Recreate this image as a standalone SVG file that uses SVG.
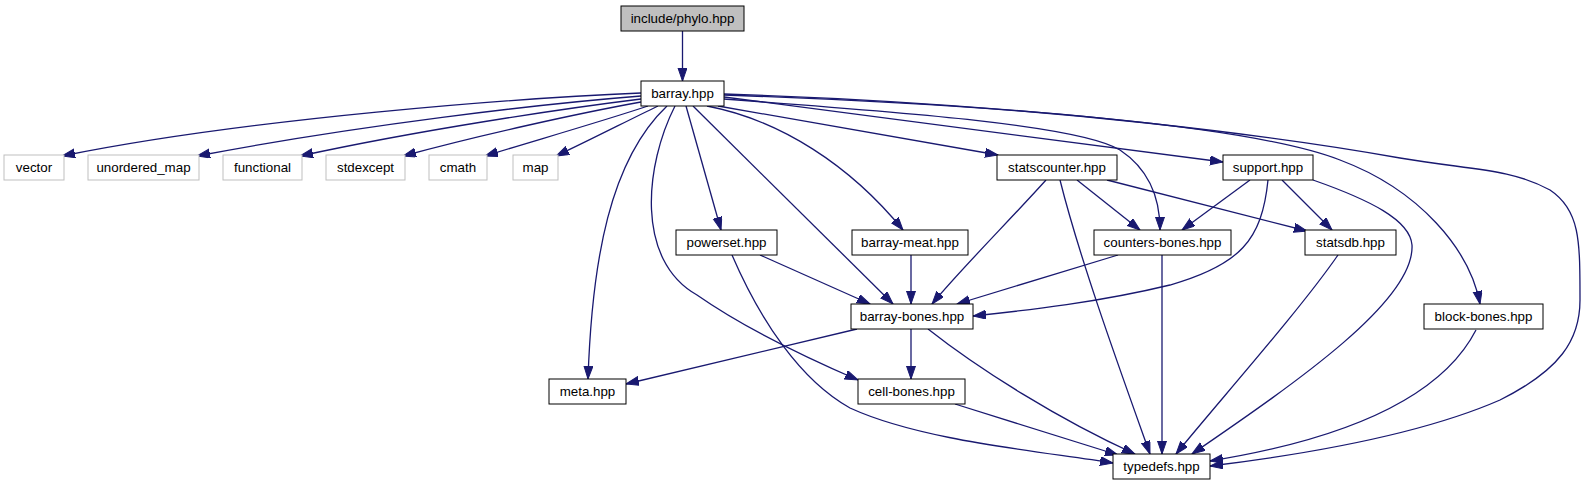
<svg xmlns="http://www.w3.org/2000/svg" width="1585" height="485" viewBox="0 0 1585 485">
<style>
.n rect{fill:#fff;stroke:#000;stroke-width:1}
.n.g rect{stroke:#bfbfbf}
.n.r rect{fill:#bfbfbf}
.n text{font-family:"Liberation Sans",Arial,sans-serif;font-size:13.33px;text-anchor:middle;fill:#000}
.e path{fill:none;stroke:#191970;stroke-width:1.3;marker-end:url(#a)}
</style>
<defs>
<marker id="a" markerUnits="userSpaceOnUse" markerWidth="14" markerHeight="10" refX="13" refY="4.5" orient="auto">
<path d="M0,0 L13,4.5 L0,9 z" fill="#191970" stroke="#191970" stroke-width="1"/>
</marker>
</defs>
<rect width="1585" height="485" fill="#fff"/>
<g class="e" id="edges">
<path d="M682.5,31 L682.5,81"/>
<path d="M641,93 C520,98 250,118 62,156"/>
<path d="M641,96 C540,104 360,125 197,156"/>
<path d="M641,99 C560,109 420,130 300,156"/>
<path d="M641,102 C580,113 480,135 403,156"/>
<path d="M648,106 C600,122 530,142 485,156"/>
<path d="M658,106 C625,122 590,140 556,156"/>
<path d="M667,106 C610,160 592,260 588,379"/>
<path d="M675,106 C645,165 635,260 697,295 C740,325 800,355 858,380"/>
<path d="M686,106 L721,230"/>
<path d="M693,106 L893,304"/>
<path d="M707,106 C780,120 850,165 903,230"/>
<path d="M718,106 L998,155"/>
<path d="M724,99 C900,112 1080,125 1120,150 C1150,170 1160,200 1160,230"/>
<path d="M724,97 L1223,162"/>
<path d="M724,95 C1000,105 1250,125 1340,160 C1420,190 1470,250 1480,304"/>
<path d="M724,94 C1050,104 1300,140 1400,158 C1470,170 1510,168 1550,190 C1580,210 1580,240 1580,300 C1580,340 1560,370 1500,400 C1420,435 1300,455 1210,466"/>
<path d="M1046,180 C1010,220 960,270 932,304"/>
<path d="M1060,180 C1080,260 1120,370 1150,454"/>
<path d="M1077,180 L1140,230"/>
<path d="M1107,180 L1307,231"/>
<path d="M1250,180 L1182,230"/>
<path d="M1268,180 C1262,240 1240,265 1170,285 C1100,302 1030,310 973,316"/>
<path d="M1282,180 L1332,230"/>
<path d="M1313,180 C1370,200 1410,220 1412,245 C1415,300 1300,380 1192,454"/>
<path d="M760,255 L870,304"/>
<path d="M732,255 C760,320 800,380 850,408 C920,440 1030,450 1113,463"/>
<path d="M911,255 L911,304"/>
<path d="M1118,255 L957,304"/>
<path d="M1162,255 L1162,454"/>
<path d="M1338,255 C1300,310 1220,400 1176,454"/>
<path d="M857,329 L626,384"/>
<path d="M911,329 L911,379"/>
<path d="M928,329 C980,370 1060,420 1135,454"/>
<path d="M955,404 L1118,455"/>
<path d="M1476,330 C1440,400 1340,440 1210,461"/>
</g>
<g id="n-include" class="n r"><rect x="621" y="6" width="123" height="25"/><text x="682.5" y="23">include/phylo.hpp</text></g>
<g id="n-barray" class="n"><rect x="641" y="81" width="83" height="25"/><text x="682.5" y="98">barray.hpp</text></g>
<g id="n-vector" class="n g"><rect x="4" y="155" width="60" height="25"/><text x="34" y="172">vector</text></g>
<g id="n-unordered_map" class="n g"><rect x="88" y="155" width="111" height="25"/><text x="143.5" y="172">unordered_map</text></g>
<g id="n-functional" class="n g"><rect x="223" y="155" width="79" height="25"/><text x="262.5" y="172">functional</text></g>
<g id="n-stdexcept" class="n g"><rect x="326" y="155" width="79" height="25"/><text x="365.5" y="172">stdexcept</text></g>
<g id="n-cmath" class="n g"><rect x="429" y="155" width="58" height="25"/><text x="458" y="172">cmath</text></g>
<g id="n-map" class="n g"><rect x="513" y="155" width="45" height="25"/><text x="535.5" y="172">map</text></g>
<g id="n-statscounter" class="n"><rect x="997" y="155" width="120" height="25"/><text x="1057" y="172">statscounter.hpp</text></g>
<g id="n-support" class="n"><rect x="1223" y="155" width="90" height="25"/><text x="1268" y="172">support.hpp</text></g>
<g id="n-powerset" class="n"><rect x="676" y="230" width="101" height="25"/><text x="726.5" y="247">powerset.hpp</text></g>
<g id="n-barray-meat" class="n"><rect x="852" y="230" width="116" height="25"/><text x="910" y="247">barray-meat.hpp</text></g>
<g id="n-counters-bones" class="n"><rect x="1094" y="230" width="137" height="25"/><text x="1162.5" y="247">counters-bones.hpp</text></g>
<g id="n-statsdb" class="n"><rect x="1305" y="230" width="91" height="25"/><text x="1350.5" y="247">statsdb.hpp</text></g>
<g id="n-barray-bones" class="n"><rect x="851" y="304" width="122" height="25"/><text x="912" y="321">barray-bones.hpp</text></g>
<g id="n-block-bones" class="n"><rect x="1424" y="304" width="119" height="25"/><text x="1483.5" y="321">block-bones.hpp</text></g>
<g id="n-meta" class="n"><rect x="549" y="379" width="77" height="25"/><text x="587.5" y="396">meta.hpp</text></g>
<g id="n-cell-bones" class="n"><rect x="858" y="379" width="107" height="25"/><text x="911.5" y="396">cell-bones.hpp</text></g>
<g id="n-typedefs" class="n"><rect x="1113" y="454" width="97" height="25"/><text x="1161.5" y="471">typedefs.hpp</text></g>
</svg>
